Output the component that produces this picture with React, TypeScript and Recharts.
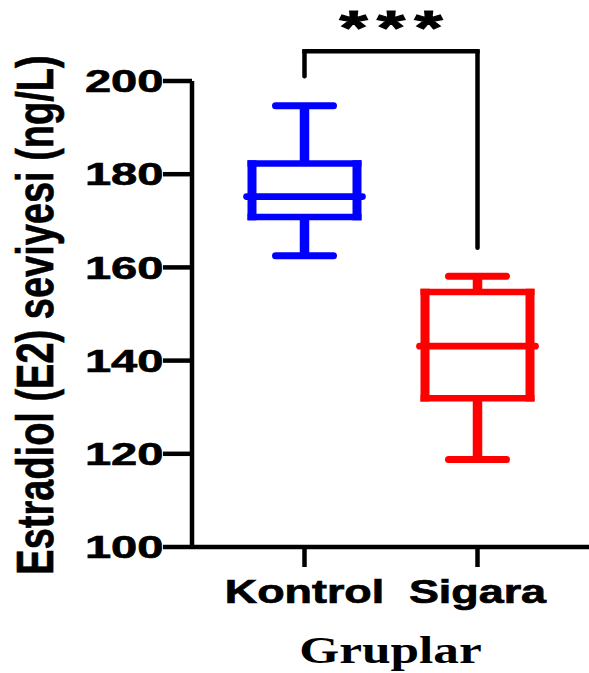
import React from 'react'
import { BarChart, Bar, XAxis, YAxis, ReferenceLine } from 'recharts'

const groups = ['Kontrol', 'Sigara']
const minVals = [162.5, 118.8]
const q1Vals = [170.8, 131.9]
const medianVals = [175.2, 143.1]
const q3Vals = [182.3, 154.7]
const maxVals = [194.7, 158.1]
const boxColors = ['#0000ff', '#ff0000']
const yTicks = [100, 120, 140, 160, 180, 200]

// significance bracket (y values)
const bracketLeft = 201.0
const bracketTop = 206.4
const bracketRight = 164.2

const data = groups.map((g, i) => ({
    group: g,
    range: [minVals[i], maxVals[i]],
    min: minVals[i],
    q1: q1Vals[i],
    median: medianVals[i],
    q3: q3Vals[i],
    max: maxVals[i],
    color: boxColors[i],
}))

const sans = '"Liberation Sans", Arial, sans-serif'
const serif = '"Liberation Serif", "Times New Roman", serif'

function BoxShape(props: any) {
    const { x, y, width, height, payload } = props
    const { min, max, q1, median, q3, color } = payload
    const yMax = y
    const yMin = y + height
    const py = (v: number) => yMin + ((v - min) / (max - min)) * (yMax - yMin)
    const cx = x + width / 2
    const left = x
    const right = x + width
    return (
        <g>
            <line x1={cx} x2={cx} y1={py(max)} y2={py(q3)} stroke={color} strokeWidth={9.5} />
            <line x1={cx} x2={cx} y1={py(q1)} y2={py(min)} stroke={color} strokeWidth={9.5} />
            <line x1={cx - 29} x2={cx + 29} y1={py(max)} y2={py(max)} stroke={color} strokeWidth={7} strokeLinecap="round" />
            <line x1={cx - 29} x2={cx + 29} y1={py(min)} y2={py(min)} stroke={color} strokeWidth={7} strokeLinecap="round" />
            <line x1={left - 4.5} x2={right + 4.5} y1={py(q3)} y2={py(q3)} stroke={color} strokeWidth={6.5} />
            <line x1={left - 4.5} x2={right + 4.5} y1={py(q1)} y2={py(q1)} stroke={color} strokeWidth={6.5} />
            <line x1={left} x2={left} y1={py(q3) - 3.25} y2={py(q1) + 3.25} stroke={color} strokeWidth={9} />
            <line x1={right} x2={right} y1={py(q3) - 3.25} y2={py(q1) + 3.25} stroke={color} strokeWidth={9} />
            <line x1={cx - 58} x2={cx + 58} y1={py(median)} y2={py(median)} stroke={color} strokeWidth={6.7} strokeLinecap="round" />
        </g>
    )
}

function YTick(props: any) {
    const { x, y, payload } = props
    return (
        <g transform={`translate(${x + 0.5},${y + 11.1}) scale(1.52,1)`}>
            <text x={0} y={0} textAnchor="end" fontFamily={sans} fontWeight="bold" fontSize={31} fill="#000" stroke="#000" strokeWidth={0.6}>
                {payload.value}
            </text>
        </g>
    )
}

function XTick(props: any) {
    const { x, y, payload } = props
    return (
        <g transform={`translate(${x},${y + 35.7}) scale(1.38,1)`}>
            <text x={0} y={0} textAnchor="middle" fontFamily={sans} fontWeight="bold" fontSize={32.5} fill="#000" stroke="#000" strokeWidth={0.7}>
                {payload.value}
            </text>
        </g>
    )
}

function XTitle(props: any) {
    const vb = props.viewBox || { x: 192, width: 397 }
    const cx = vb.x + vb.width / 2
    return (
        <g transform={`translate(${cx},663) scale(1.35,1)`}>
            <text x={0} y={0} textAnchor="middle" fontFamily={serif} fontWeight="bold" fontSize={38} fill="#000">
                Gruplar
            </text>
        </g>
    )
}

function YTitle() {
    return (
        <g transform="translate(53.3,315) scale(1.345,1) rotate(-90)">
            <text x={0} y={0} textAnchor="middle" fontFamily={sans} fontWeight="bold" fontSize={38} fill="#000" stroke="#000" strokeWidth={0.5}>
                Estradiol (E2) seviyesi (ng/L)
            </text>
        </g>
    )
}

function Stars(props: any) {
    const vb = props.viewBox || {}
    const cx = (vb.x ?? 306) + (vb.width ?? 172) / 2
    return (
        <g transform={`translate(${cx + 4.7},44) scale(1.5,1)`}>
            <text x={0} y={0} textAnchor="middle" fontFamily={sans} fontWeight="bold" fontSize={48} letterSpacing={6.3} fill="#000" stroke="#000" strokeWidth={1.1}>
                ***
            </text>
        </g>
    )
}

export default function App() {
    return (
        <div style={{ position: 'absolute', left: 0, top: 0, width: 589, height: 673, background: '#fff' }}>
            <BarChart width={589} height={673} data={data} margin={{ top: 81, right: 0, bottom: 0, left: 0 }}>
                <XAxis
                    dataKey="group"
                    type="category"
                    height={126}
                    padding={{ left: 26, right: 25 }}
                    axisLine={{ stroke: '#000', strokeWidth: 4.5 }}
                    tickLine={{ stroke: '#000', strokeWidth: 4.5 }}
                    tickSize={20}
                    tickMargin={0}
                    tick={<XTick />}
                    label={{ content: XTitle }}
                />
                <YAxis
                    width={192}
                    domain={[100, 200]}
                    ticks={yTicks}
                    axisLine={{ stroke: '#000', strokeWidth: 4.5 }}
                    tickLine={{ stroke: '#000', strokeWidth: 4.5 }}
                    tickSize={29}
                    tickMargin={0}
                    tick={<YTick />}
                    label={{ content: YTitle }}
                />
                <Bar dataKey="range" barSize={105} shape={<BoxShape />} isAnimationActive={false} />
                <ReferenceLine
                    segment={[{ x: 'Kontrol', y: bracketLeft }, { x: 'Kontrol', y: bracketTop }]}
                    stroke="#000"
                    strokeWidth={4.5}
                    strokeLinecap="round"
                    ifOverflow="visible"
                />
                <ReferenceLine
                    segment={[{ x: 'Sigara', y: bracketTop }, { x: 'Sigara', y: bracketRight }]}
                    stroke="#000"
                    strokeWidth={4.5}
                    strokeLinecap="round"
                    ifOverflow="visible"
                />
                <ReferenceLine
                    segment={[{ x: 'Kontrol', y: bracketTop }, { x: 'Sigara', y: bracketTop }]}
                    stroke="#000"
                    strokeWidth={4.5}
                    strokeLinecap="square"
                    ifOverflow="visible"
                    label={{ content: Stars }}
                />
            </BarChart>
        </div>
    )
}
